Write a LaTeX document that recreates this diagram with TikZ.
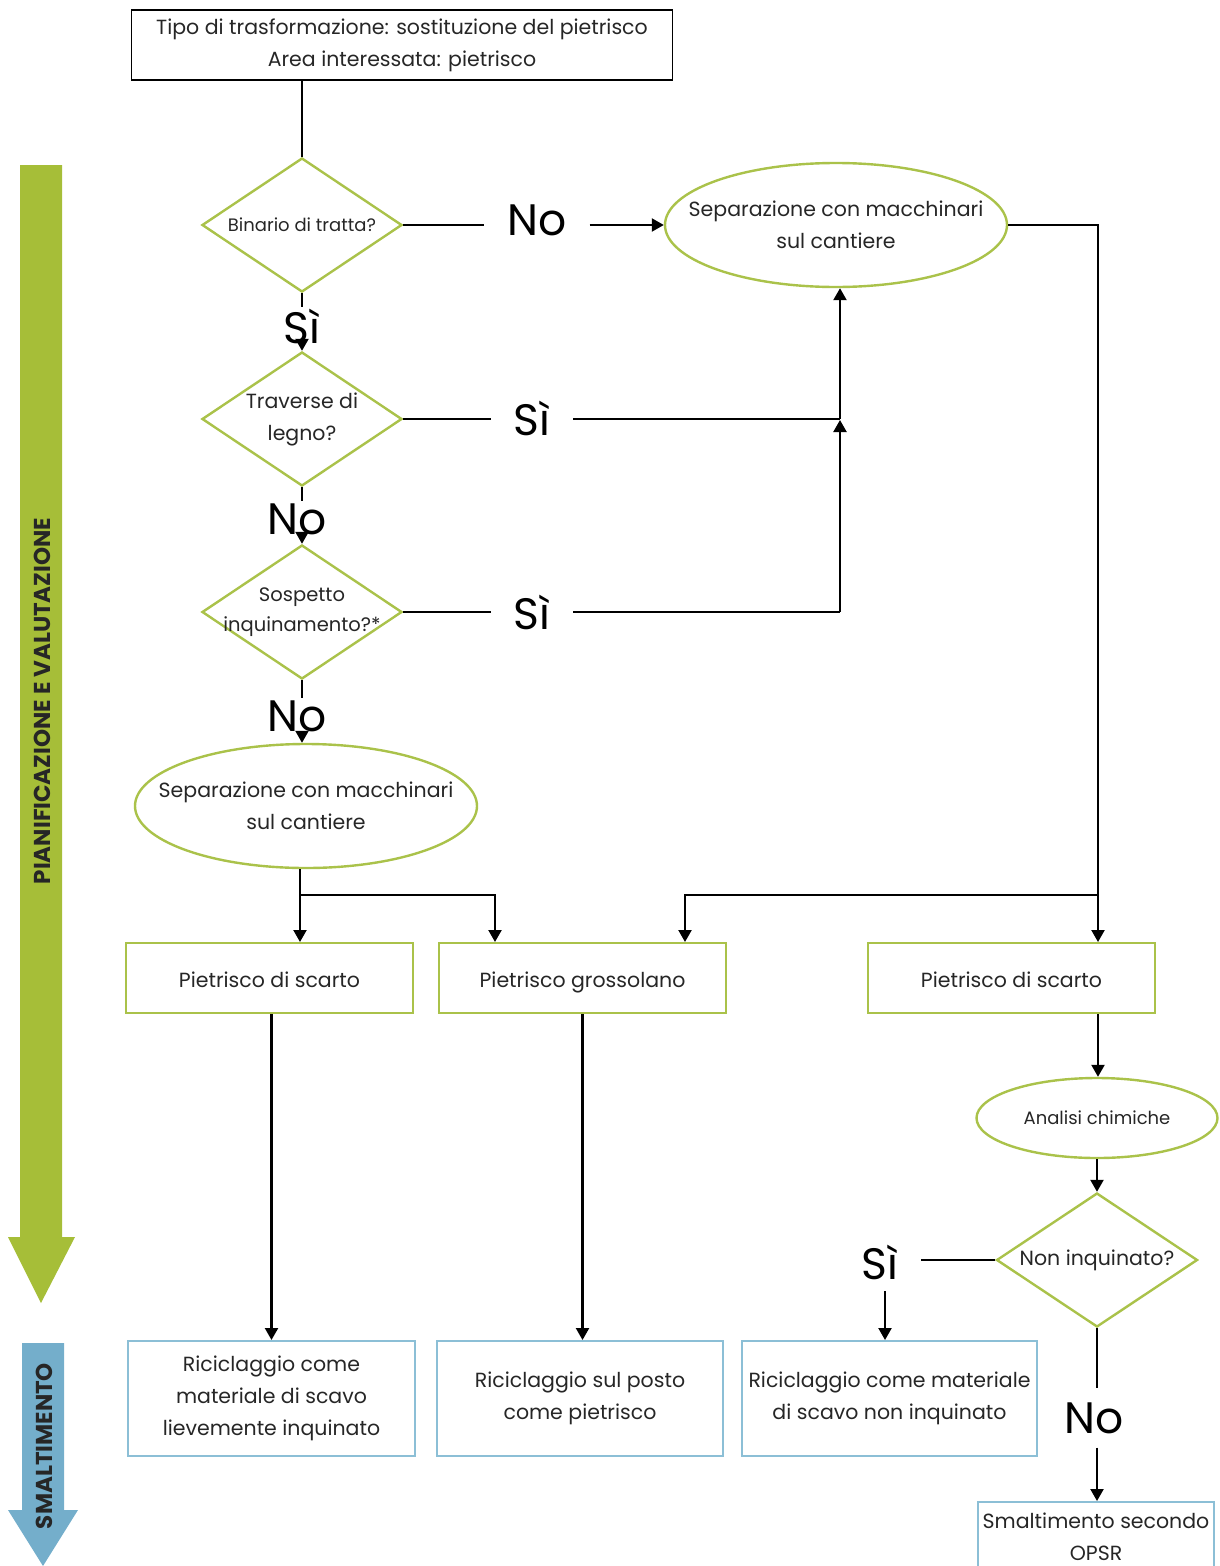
\documentclass[tikz,border=0pt]{standalone}
\usepackage{fontspec}
\setmainfont{Poppins}
\usetikzlibrary{positioning, arrows.meta, shapes.geometric, calc}

\definecolor{verde}{HTML}{A6BE38}
\definecolor{verdebordo}{HTML}{AAC24A}
\definecolor{blu}{HTML}{74AECB}
\definecolor{blubordo}{HTML}{8CBFD6}

\tikzset{
  testo/.style={font=\fontsize{20.5}{32}\selectfont, align=center, text=black!85},
  rombo/.style={diamond, draw=verdebordo, line width=2.4pt, inner xsep=-40pt, inner ysep=0pt,
    aspect=1.5, minimum width=200pt, minimum height=134pt, testo},
  ovale/.style={ellipse, draw=verdebordo, line width=2.4pt, inner xsep=-30pt, inner ysep=0pt,
    minimum width=342pt, minimum height=124pt, testo},
  scatola/.style={rectangle, draw=verdebordo, line width=2pt, text height=19pt, text depth=1pt,
    minimum width=287pt, minimum height=70pt, testo},
  finale/.style={rectangle, draw=blubordo, line width=2pt,
    minimum width=287pt, minimum height=115pt, testo},
  esito/.style={font=\fontsize{44}{44}\selectfont, inner xsep=22pt, inner ysep=1pt},
  fase/.style={rotate=90, font=\bfseries\fontsize{23}{23}\selectfont, text=black!85},
  freccia/.style={-{Triangle[width=13pt,length=12pt]}},
}

\begin{document}
\begin{tikzpicture}[x=1pt, y=-1pt, line width=2.2pt]
  \useasboundingbox (0,0) rectangle (1220,1566);

  % frecce delle fasi
  \fill[verde] (20,165) -- (62,165) -- (62,1237) -- (75,1237) -- (41,1303)
    -- (8,1237) -- (20,1237) -- cycle;
  \fill[blu] (22,1343) -- (64,1343) -- (64,1510) -- (78,1510) -- (43,1566)
    -- (8,1510) -- (22,1510) -- cycle;
  \node[fase] (pianif) at (42,701) {PIANIFICAZIONE E VALUTAZIONE};
  \node[fase] (smaltim) at (44,1446) {SMALTIMENTO};

  % nodi
  \node[testo, draw=black, line width=1.8pt, minimum width=541pt, minimum height=70pt]
    (tipo) at (402,45) {Tipo di trasformazione: sostituzione del pietrisco\\Area interessata: pietrisco};
  \node[rombo, font=\fontsize{18}{30}\selectfont] (binario) at (302,225) {Binario di tratta?};
  \node[ovale] (sepdx) at (836,225) {Separazione con macchinari\\sul cantiere};
  \node[rombo] (traverse) at (302,419) {Traverse di\\legno?};
  \node[rombo, font=\fontsize{19.5}{30}\selectfont] (sospetto) at (302,612) {Sospetto\\inquinamento?*};
  \node[ovale] (sepsx) at (306,806) {Separazione con macchinari\\sul cantiere};
  \node[scatola] (scarto1) at (269.5,978) {Pietrisco di scarto};
  \node[scatola] (grosso) at (582.5,978) {Pietrisco grossolano};
  \node[scatola] (scarto2) at (1011.5,978) {Pietrisco di scarto};
  \node[ovale, minimum width=241pt, minimum height=80pt, font=\fontsize{18}{28}\selectfont]
    (analisi) at (1097,1118) {Analisi chimiche};
  \node[rombo, minimum width=201pt] (noninq) at (1097,1260) {Non inquinato?};
  \node[finale] (ricic1) at (271.5,1398.5) {Riciclaggio come\\materiale di scavo\\lievemente inquinato};
  \node[finale, minimum width=286pt] (ricic2) at (580,1398.5) {Riciclaggio sul posto\\come pietrisco};
  \node[finale, minimum width=295pt] (ricic3) at (889.5,1398.5) {Riciclaggio come materiale\\di scavo non inquinato};
  \node[finale, minimum width=236pt, minimum height=70pt] (opsr) at (1096,1537) {Smaltimento secondo\\OPSR};

  % etichette
  \node[esito] (no1) at (537,220) {No};
  \node[esito] (si1) at (302,326) {Sì};
  \node[esito] (si2) at (532,418) {Sì};
  \node[esito] (no2) at (297,519) {No};
  \node[esito] (si3) at (532,612) {Sì};
  \node[esito] (no3) at (297,716) {No};
  \node[esito] (si4) at (880,1262) {Sì};
  \node[esito] (no4) at (1094,1418) {No};

  \coordinate (j2) at (840,419);
  \coordinate (j3) at (840,612);
  \coordinate (b1) at (300,895);
  \coordinate (b2) at (1098,895);

  % collegamenti
  \draw (binario.north |- tipo.south) -- (binario.north);
  \draw (binario.east) -- (binario.east -| no1.west);
  \draw[freccia] (sepdx.west -| no1.east) -- (sepdx.west);
  \draw (binario.south) -- (si1.north);
  \draw[freccia] (si1.south) -- (traverse.north);
  \draw (traverse.east) -- (traverse.east -| si2.west);
  \draw (j2 -| si2.east) -- (j2);
  \draw[freccia] (j2) -- (j2 |- sepdx.south);
  \draw (traverse.south) -- (traverse.south |- no2.north);
  \draw[freccia] (traverse.south |- no2.south) -- (sospetto.north);
  \draw (sospetto.east) -- (sospetto.east -| si3.west);
  \draw (j3 -| si3.east) -- (j3);
  \draw[freccia] (j3) -- ([yshift=-1pt]j2);
  \draw (sospetto.south) -- (sospetto.south |- no3.north);
  \draw[freccia] (sospetto.south |- no3.south) -- (sospetto.south |- sepsx.north);
  \draw (b1 |- sepsx.south) -- (b1);
  \draw[freccia] (b1) -- (b1 |- scarto1.north);
  \draw[freccia] (b1) -| ([xshift=-87.5pt]grosso.north);
  \draw (sepdx.east) -| (b2);
  \draw[freccia] (b2) -- (b2 |- scarto2.north);
  \draw[freccia] (b2) -| ([xshift=102.5pt]grosso.north);
  \draw[freccia] (scarto1.south -| ricic1) -- (ricic1.north);
  \draw[freccia] (grosso.south) -- (grosso.south |- ricic2.north);
  \draw[freccia] (b2 |- scarto2.south) -- (b2 |- analisi.north);
  \draw[freccia] (analisi.south) -- (noninq.north);
  \draw (noninq.west) -- (noninq.west -| si4.east);
  \draw[freccia] ([xshift=5pt, yshift=-10pt]si4.south) -- ([xshift=5pt]si4.south |- ricic3.north);
  \draw (noninq.south) -- ([yshift=12pt]noninq.south |- no4.north);
  \draw[freccia] ([yshift=-12pt]noninq.south |- no4.south) -- (noninq.south |- opsr.north);
\end{tikzpicture}
\end{document}
